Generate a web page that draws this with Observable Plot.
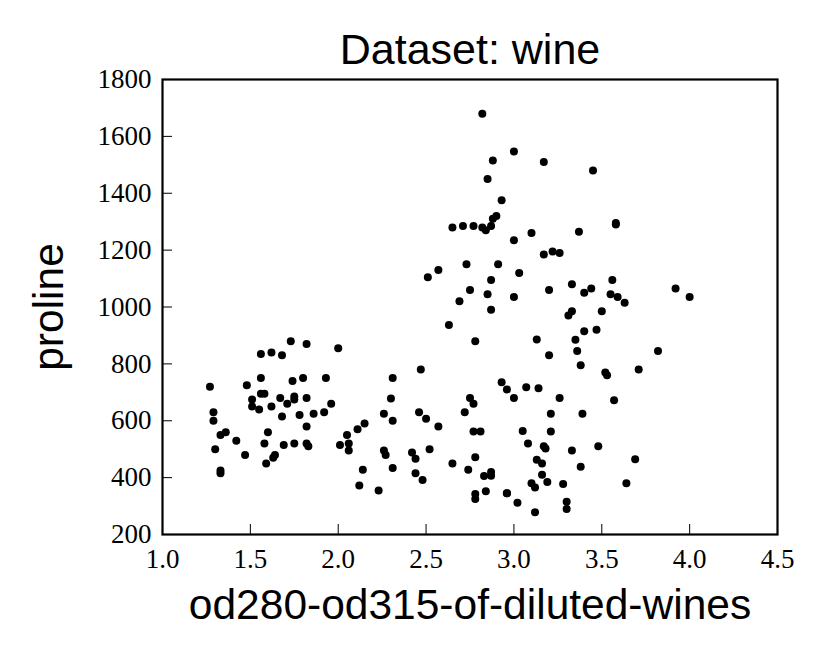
<!DOCTYPE html>
<html>
<head>
<meta charset="utf-8">
<script src="https://cdn.jsdelivr.net/npm/d3@7"></script>
<script src="https://cdn.jsdelivr.net/npm/@observablehq/plot@0.6"></script>
<style>
  html, body { margin: 0; padding: 0; background: #fff; }
  #chart svg { display: block; }
</style>
</head>
<body>
<div id="chart"></div>
<script>
const title = "Dataset: wine";
const xLabel = "od280-od315-of-diluted-wines";
const yLabel = "proline";
const xTicks = [1.0, 1.5, 2.0, 2.5, 3.0, 3.5, 4.0, 4.5];
const yTicks = [200, 400, 600, 800, 1000, 1200, 1400, 1600, 1800];

const od280 = [
  3.92,3.4,3.17,3.45,2.93,2.85,3.58,3.58,2.85,3.55,3.17,2.82,2.9,2.73,3,2.88,2.65,2.57,2.82,3.36,
  3.71,3.52,4,3.63,3.82,3.2,3.22,2.77,3.4,3.59,2.71,2.88,2.87,3,2.87,3.47,2.78,2.51,2.69,3.53,
  3.38,3,3.56,3,3.35,3.33,3.44,3.33,2.75,3.1,2.91,3.37,3.26,2.93,3.2,3.03,3.31,2.84,2.87,
  1.82,1.67,1.59,2.46,2.87,2.23,2.3,3.18,3.48,1.93,3.07,1.82,3.16,2.78,3.5,3.13,2.14,2.48,2.52,2.31,
  3.13,3.12,3.14,2.72,2.01,3.08,3.16,2.26,3.21,2.75,3.21,2.27,2.65,2.06,3.3,2.96,2.63,2.26,2.74,2.77,
  2.83,2.96,2.77,3.38,2.44,3.57,3.3,3.17,2.42,3.02,3.26,2.81,2.78,2.5,2.31,3.19,2.87,3.33,2.96,2.12,
  3.05,3.39,3.69,3.12,3.1,3.64,3.28,2.84,2.44,2.78,2.57,
  1.29,1.42,1.36,1.29,1.51,1.58,1.27,1.69,1.82,2.15,2.31,2.47,2.06,2.05,2,1.68,1.33,1.86,1.62,1.33,
  1.3,1.47,1.33,1.51,1.55,1.48,1.64,1.73,1.96,1.78,1.58,1.82,2.11,1.75,1.68,1.75,1.56,1.75,1.8,1.92,
  1.83,1.63,1.71,1.74,1.56,1.56,1.62,1.6
];
const proline = [
  1065,1050,1185,1480,735,1450,1290,1295,1045,1045,1510,1280,1320,1150,1547,1310,1280,1130,1680,845,
  780,770,1035,1015,845,830,1195,1285,915,1035,1285,1515,990,1235,1095,920,880,1105,1020,760,
  795,1035,1095,680,885,1080,1065,985,1060,1260,1150,1265,1190,1375,1060,1120,970,1270,1285,
  520,680,450,630,420,355,678,502,510,750,718,870,410,472,985,886,428,392,500,750,
  463,278,714,630,515,520,450,495,562,680,625,480,450,495,290,345,937,625,428,660,
  406,710,562,438,415,672,315,510,488,312,680,562,325,607,434,385,407,495,345,372,
  564,625,465,365,380,380,378,352,466,342,580,
  630,530,560,600,650,695,720,515,580,590,600,780,520,550,855,830,415,625,650,550,
  500,480,425,675,640,725,480,880,660,620,520,680,570,675,615,520,695,685,750,630,
  510,470,660,740,750,835,840,560
];

const data = od280.map((x, i) => ({x, y: proline[i]}));

const serif = "'Liberation Serif', 'DejaVu Serif', serif";
const sans = "'Liberation Sans', Arial, Helvetica, sans-serif";

const chart = Plot.plot({
  width: 830,
  height: 664,
  marginLeft: 162,
  marginRight: 53,
  marginTop: 79,
  marginBottom: 130,
  style: {background: "#fff", color: "#000"},
  x: {domain: [1, 4.5]},
  y: {domain: [200, 1800]},
  marks: [
    Plot.dot(data, {x: "x", y: "y", r: 4, fill: "#000", stroke: null}),
    Plot.axisX({ticks: xTicks, tickFormat: d => d.toFixed(1), tickSize: -10, tickPadding: 24,
      fontSize: 27, fontFamily: serif, stroke: "#000", label: null}),
    Plot.axisY({ticks: yTicks, tickFormat: d => String(d), tickSize: -10, tickPadding: 21,
      fontSize: 27, fontFamily: serif, stroke: "#000", label: null}),
    Plot.frame({stroke: "#000", strokeWidth: 2.2}),
    Plot.text([title], {frameAnchor: "top", dy: -16, lineAnchor: "bottom", text: d => d,
      fontSize: 43, fontFamily: sans, fill: "#000"}),
    Plot.text([xLabel], {frameAnchor: "bottom", dy: 54, lineAnchor: "top", text: d => d,
      fontSize: 42.5, fontFamily: sans, fill: "#000"}),
    Plot.text([yLabel], {frameAnchor: "left", textAnchor: "middle", dx: -113, rotate: -90, text: d => d,
      fontSize: 42.5, fontFamily: sans, fill: "#000"})
  ]
});
document.getElementById("chart").appendChild(chart);
</script>
</body>
</html>
